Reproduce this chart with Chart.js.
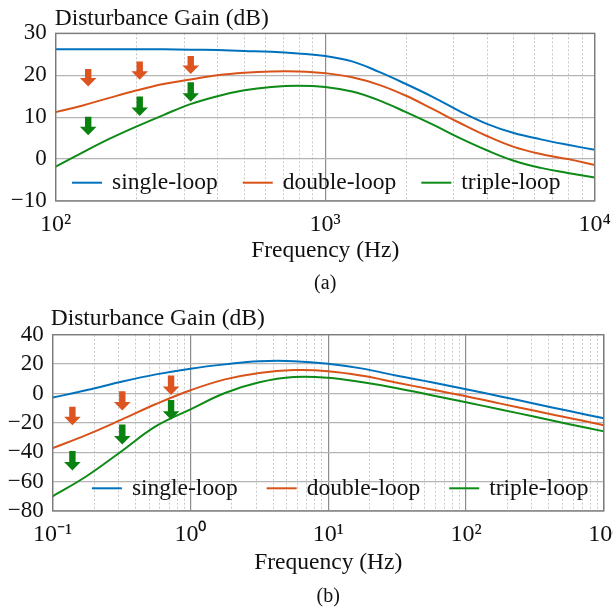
<!DOCTYPE html>
<html><head><meta charset="utf-8">
<script src="https://cdn.jsdelivr.net/npm/chart.js@4"></script>
<style>
html,body{margin:0;padding:0;background:#fff;}
#wrap{position:relative;width:613px;height:612px;overflow:hidden;background:#fff;}
canvas{position:absolute;left:0;}
</style></head><body>
<div id="wrap">
<canvas id="ca" width="613" height="300" style="top:0px"></canvas>
<canvas id="cb" width="613" height="312" style="top:300px"></canvas>
</div>
<script>
// ---------- data ----------
const seriesNames = ['single-loop', 'double-loop', 'triple-loop'];
const seriesColors = ['#0072BD', '#D95319', '#0E8A16'];
const yTitle = 'Disturbance Gain (dB)';
const xTitle = 'Frequency (Hz)';
const captions = ['(a)', '(b)'];

// (a)
const freqA   = [100,126,158,200,251,316,398,501,631,794,1000,1259,1585,1995,2512,3162,3981,5012,6310,7943,10000];
const singleA = [26.2,26.2,26.2,26.2,26.2,26.1,26.0,25.8,25.6,25.2,24.6,23.3,20.8,17.9,14.8,11.4,8.4,6.2,4.7,3.4,2.2];
const doubleA = [11.2,12.8,14.6,16.4,17.9,19.0,20.0,20.6,20.9,20.9,20.5,19.5,17.7,15.1,11.9,8.6,5.5,2.9,1.2,0.0,-1.4];
const tripleA = [-1.8,1.6,4.8,7.8,10.5,13.1,15.0,16.4,17.2,17.5,17.2,16.1,14.0,11.2,8.2,5.0,2.1,-0.4,-2.1,-3.3,-4.4];
const xMajorA = [100, 1000, 10000];
const xLabelA = ['10\u00B2', '10\u00B3', '10\u2074'];
const yTicksA = [-10, 0, 10, 20, 30];
const arrowFreqA      = [132, 205, 317];
const arrowOrangeTopA = [21.5, 23.3, 24.6];
const arrowOrangeTipA = [17.3, 18.9, 20.3];
const arrowGreenTopA  = [10.1, 14.9, 18.3];
const arrowGreenTipA  = [5.7, 10.3, 13.7];

// (b)
const freqB   = [0.1,0.178,0.316,0.562,1,1.78,3.16,5.62,10,17.8,31.6,56.2,100,178,316,562,1000];
const singleB = [-2.8,2.3,8.0,13.0,16.9,19.8,21.9,22.0,20.3,16.9,12.0,7.6,2.9,-2.0,-7.0,-12.0,-16.9];
const doubleB = [-37.2,-28.0,-17.8,-7.2,2.2,9.6,14.0,15.9,15.2,12.0,7.3,2.7,-1.9,-6.9,-11.8,-16.7,-21.6];
const tripleB = [-70.0,-56.0,-39.3,-22.3,-10.8,0.3,7.6,11.2,10.7,7.6,3.6,-1.2,-6.0,-10.9,-15.9,-20.9,-25.8];
const xMajorB = [0.1, 1, 10, 100, 1000];
const xLabelB = ['10\u207B\u00B9', '10\u2070', '10\u00B9', '10\u00B2', '10\u00B3'];
const yTicksB = [-80, -60, -40, -20, 0, 20, 40];
const arrowFreqB      = [0.139, 0.32, 0.723];
const arrowOrangeTopB = [-9.0, 1.5, 12.3];
const arrowOrangeTipB = [-21.7, -11.6, -1.1];
const arrowGreenTopB  = [-39.1, -21.2, -4.5];
const arrowGreenTipB  = [-52.5, -34.7, -17.9];

// ---------- helpers ----------
const FONT = '"Liberation Serif", "Times New Roman", serif';
function minorGrid(majors) {
  const out = [];
  for (let d = 0; d < majors.length - 1; d++) {
    for (let k = 1; k <= 9; k++) out.push(majors[d] * k);
  }
  out.push(majors[majors.length - 1]);
  return out;
}
function isMajorVal(v, majors) {
  return majors.some(m => Math.abs(Math.log10(v) - Math.log10(m)) < 1e-6);
}
function majorLabel(v, majors, labels) {
  const i = majors.findIndex(m => Math.abs(Math.log10(v) - Math.log10(m)) < 1e-6);
  return i >= 0 ? labels[i] : '';
}
function drawArrow(ctx, x, yTop, yTip, color) {
  const headH = 8.5, headHalf = 8.3, shaftHalf = 3.2;
  ctx.save();
  ctx.fillStyle = color;
  ctx.beginPath();
  ctx.moveTo(x - shaftHalf, yTop);
  ctx.lineTo(x + shaftHalf, yTop);
  ctx.lineTo(x + shaftHalf, yTip - headH);
  ctx.lineTo(x + headHalf, yTip - headH);
  ctx.lineTo(x, yTip);
  ctx.lineTo(x - headHalf, yTip - headH);
  ctx.lineTo(x - shaftHalf, yTip - headH);
  ctx.closePath();
  ctx.fill();
  ctx.restore();
}

const decor = {
  id: 'decor',
  afterDatasetsDraw(chart, args, o) {
    const {ctx, chartArea: a, scales: {x, y}} = chart;
    o.arrows.forEach(ar => {
      ar.freq.forEach((f, i) => {
        drawArrow(ctx, x.getPixelForValue(f), y.getPixelForValue(ar.top[i]), y.getPixelForValue(ar.tip[i]), ar.color);
      });
    });
    ctx.save();
    ctx.strokeStyle = '#7a7a7a';
    ctx.lineWidth = 1.3;
    ctx.strokeRect(a.left, a.top, a.right - a.left, a.bottom - a.top);
    ctx.restore();
    ctx.save();
    ctx.font = o.legendFont + 'px ' + FONT;
    ctx.textBaseline = 'alphabetic';
    ctx.fillStyle = '#111';
    let lx = a.left + o.legendStart;
    const ly = a.bottom - o.legendUp;
    chart.data.datasets.forEach(ds => {
      ctx.strokeStyle = ds.borderColor;
      ctx.lineWidth = 2;
      ctx.beginPath();
      ctx.moveTo(lx, ly);
      ctx.lineTo(lx + 30, ly);
      ctx.stroke();
      ctx.fillText(ds.label, lx + 40, ly + 6.5);
      lx += 40 + ctx.measureText(ds.label).width + o.legendGap;
    });
    ctx.restore();
  },
  afterDraw(chart, args, o) {
    const {ctx, chartArea: a} = chart;
    ctx.save();
    ctx.fillStyle = '#111';
    ctx.font = '23.5px ' + FONT;
    ctx.textAlign = 'left';
    ctx.textBaseline = 'alphabetic';
    ctx.fillText(yTitle, a.left + o.titleDx, a.top - o.titleUp);
    ctx.font = '20px ' + FONT;
    ctx.textAlign = 'center';
    ctx.textBaseline = 'middle';
    ctx.fillText(o.caption, (a.left + a.right) / 2, a.bottom + o.captionDown);
    ctx.restore();
  }
};

function makeChart(id, cfg) {
  const grid = minorGrid(cfg.xMajor);
  const ds = [cfg.s1, cfg.s2, cfg.s3].map((arr, k) => ({
    label: seriesNames[k],
    data: cfg.freq.map((f, i) => ({x: f, y: arr[i]})),
    borderColor: seriesColors[k],
    backgroundColor: seriesColors[k],
    borderWidth: 2,
    pointRadius: 0,
    fill: false,
    tension: 0.4
  }));
  return new Chart(document.getElementById(id), {
    type: 'line',
    data: {datasets: ds},
    plugins: [decor],
    options: {
      responsive: false,
      animation: false,
      layout: {padding: cfg.pad},
      plugins: {
        legend: {display: false},
        tooltip: {enabled: false},
        decor: {
          arrows: [
            {freq: cfg.arrowFreq, top: cfg.oTop, tip: cfg.oTip, color: '#DE5420'},
            {freq: cfg.arrowFreq, top: cfg.gTop, tip: cfg.gTip, color: '#0A820F'}
          ],
          legendFont: 23.5, legendStart: cfg.legendStart, legendGap: cfg.legendGap, legendUp: cfg.legendUp,
          titleDx: cfg.titleDx, titleUp: cfg.titleUp, caption: cfg.caption, captionDown: cfg.captionDown
        }
      },
      scales: {
        x: {
          type: 'logarithmic',
          min: cfg.xMajor[0], max: cfg.xMajor[cfg.xMajor.length - 1],
          afterBuildTicks(s) { s.ticks = grid.map(v => ({value: v, major: isMajorVal(v, cfg.xMajor)})); },
          afterFit(s) { s.height = cfg.xHeight; s.paddingLeft = 0; s.paddingRight = 0; },
          grid: {
            drawTicks: false,
            color: c => (c.tick && isMajorVal(c.tick.value, cfg.xMajor)) ? '#8c8c8c' : '#c8c8c8',
            lineWidth: c => (c.tick && isMajorVal(c.tick.value, cfg.xMajor)) ? 1.2 : 1
          },
          border: {display: false, dash: c => (c.tick && isMajorVal(c.tick.value, cfg.xMajor)) ? [] : [2, 2]},
          ticks: {
            autoSkip: false, maxRotation: 0, minRotation: 0, padding: 9,
            color: '#111', font: {family: FONT, size: 24},
            callback: v => majorLabel(v, cfg.xMajor, cfg.xLabel)
          },
          title: {display: true, text: xTitle, color: '#111', font: {family: FONT, size: 23.5}, padding: {top: 0, bottom: 35}}
        },
        y: {
          min: cfg.yTicks[0], max: cfg.yTicks[cfg.yTicks.length - 1],
          afterBuildTicks(s) { s.ticks = cfg.yTicks.map(v => ({value: v})); },
          afterFit(s) { s.width = cfg.yWidth; s.paddingTop = 0; s.paddingBottom = 0; },
          grid: {drawTicks: false, color: '#b5b5b5', lineWidth: 1.2},
          border: {display: false},
          ticks: {
            autoSkip: false, padding: 9, color: '#111', font: {family: FONT, size: 23},
            callback: v => v < 0 ? '\u2212' + Math.abs(v) : String(v)
          }
        }
      }
    }
  });
}

makeChart('ca', {
  freq: freqA, s1: singleA, s2: doubleA, s3: tripleA,
  xMajor: xMajorA, xLabel: xLabelA, yTicks: yTicksA,
  arrowFreq: arrowFreqA, oTop: arrowOrangeTopA, oTip: arrowOrangeTipA, gTop: arrowGreenTopA, gTip: arrowGreenTipA,
  pad: {left: 0, top: 33.3, right: 18.3, bottom: 0},
  xHeight: 99, yWidth: 55.7,
  legendStart: 16.3, legendGap: 25, legendUp: 18.3,
  titleDx: -1, titleUp: 8, caption: captions[0], captionDown: 83
});
makeChart('cb', {
  freq: freqB, s1: singleB, s2: doubleB, s3: tripleB,
  xMajor: xMajorB, xLabel: xLabelB, yTicks: yTicksB,
  arrowFreq: arrowFreqB, oTop: arrowOrangeTopB, oTip: arrowOrangeTipB, gTop: arrowGreenTopB, gTip: arrowGreenTipB,
  pad: {left: 0, top: 34.7, right: 9.2, bottom: 0},
  xHeight: 101, yWidth: 52.7,
  legendStart: 39.2, legendGap: 29, legendUp: 22.7,
  titleDx: -2, titleUp: 10, caption: captions[1], captionDown: 86
});
</script>
</body></html>
